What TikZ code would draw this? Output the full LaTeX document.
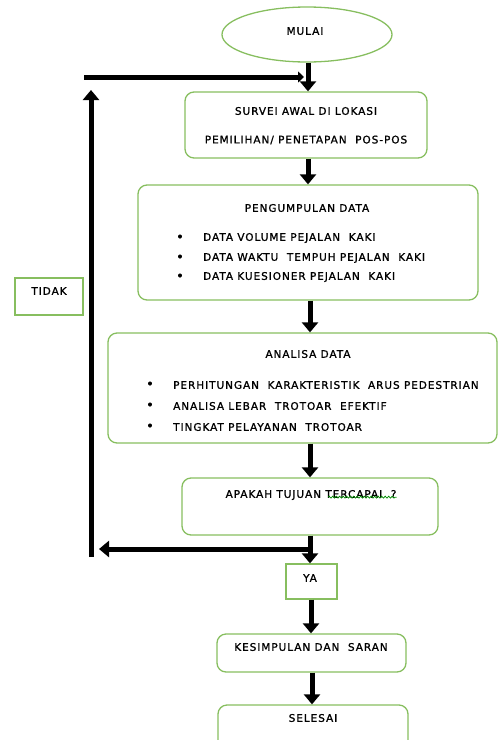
\documentclass[tikz,border=0pt]{standalone}
\usepackage{fontspec}
\setmainfont{DejaVu Sans}[LetterSpace=9,FakeBold=1.2]
\usetikzlibrary{shapes.geometric,arrows.meta,decorations.pathmorphing,calc}
\definecolor{boxgreen}{RGB}{135,190,95}
\tikzset{
  gbox/.style={draw=boxgreen,line width=1.3pt,rounded corners=9pt,inner sep=0pt},
  sbox/.style={draw=boxgreen,line width=1.3pt,inner sep=0pt},
  txt/.style={font=\fontsize{10.5}{12}\selectfont,inner sep=0pt},
  bul/.style={font=\fontsize{13}{14}\selectfont,inner sep=0pt},
  arr/.style={line width=5pt,-{Triangle[width=16pt,length=10pt]}},
  arrs/.style={line width=5pt,-{Triangle[width=11pt,length=6pt]}},
}
\begin{document}
\begin{tikzpicture}[x=1pt,y=-1pt]
\useasboundingbox (0,0) rectangle (500,740);
\clip (0,0) rectangle (500,740);
% shapes
\node[ellipse,draw=boxgreen,line width=1.3pt,minimum width=170pt,minimum height=55pt,inner sep=0pt] (mulai) at (307,34.5) {};
\node[txt] (tmulai) at (305,31) {MULAI};
\node[gbox,minimum width=242pt,minimum height=66pt] (box1) at (306,125) {};
\node[txt] (t1a) at (306,111) {SURVEI AWAL DI LOKASI};
\node[txt] (t1b) at (306,140) {PEMILIHAN/\ PENETAPAN\ \ POS-POS};
\node[gbox,minimum width=340pt,minimum height=115pt] (box2) at (308,242.5) {};
\node[txt] (t2) at (307,208) {PENGUMPULAN DATA};
\node[bul] (b21) at (180,238) {\textbullet};
\node[bul] (b22) at (180,258) {\textbullet};
\node[bul] (b23) at (180,277) {\textbullet};
\node[txt,anchor=west] (t21) at (203,238) {DATA VOLUME PEJALAN\ \ KAKI};
\node[txt,anchor=west] (t22) at (203,258) {DATA WAKTU\ \ TEMPUH PEJALAN\ \ KAKI};
\node[txt,anchor=west] (t23) at (203,277) {DATA KUESIONER PEJALAN\ \ KAKI};
\node[gbox,minimum width=389pt,minimum height=110pt] (box3) at (302.5,388) {};
\node[txt] (t3) at (308,354) {ANALISA DATA};
\node[bul] (b31) at (150,385) {\textbullet};
\node[bul] (b32) at (150,406) {\textbullet};
\node[bul] (b33) at (150,427) {\textbullet};
\node[txt,anchor=west] (t31) at (173,385) {PERHITUNGAN\ \ KARAKTERISTIK\ \ ARUS PEDESTRIAN};
\node[txt,anchor=west] (t32) at (173,406) {ANALISA LEBAR\ \ TROTOAR\ \ EFEKTIF};
\node[txt,anchor=west] (t33) at (173,427) {TINGKAT PELAYANAN\ \ TROTOAR};
\node[gbox,minimum width=256pt,minimum height=57pt] (box4) at (310,506.5) {};
\node[txt] (t4) at (311,495) {APAKAH TUJUAN TERCAPAI\ \ ?};
\draw[green!55!black,line width=0.7pt,decorate,decoration={snake,amplitude=1pt,segment length=3.5pt}] ($(t4.south west)!0.6!(t4.south east)+(0,3pt)$) -- ($(t4.south east)+(0,3pt)$);
\node[sbox,minimum width=68pt,minimum height=37pt] (tidak) at (49,296.5) {};
\node[txt] (ttidak) at (49,291) {TIDAK};
\node[sbox,minimum width=51pt,minimum height=35pt] (ya) at (311.5,581.5) {};
\node[txt] (tya) at (310,578) {YA};
\node[gbox,minimum width=189pt,minimum height=38pt] (kes) at (311.5,653) {};
\node[txt] (tkes) at (311,647) {KESIMPULAN DAN\ \ SARAN};
\node[gbox,minimum width=190pt,minimum height=50pt] (sel) at (313,730) {};
\node[txt] (tsel) at (313,718) {SELESAI};
% coordinates for feedback loop
\coordinate (ja) at (304,77);
\coordinate (fa) at (84,77);
\coordinate (jb) at (310,549);
\coordinate (fb) at (99,549);
\coordinate (fc) at (91,557);
\coordinate (fd) at (91,90);
% connectors
\draw[arr] (mulai.south -| 308,0) -- (box1.north -| 308,0);
\draw[arrs] (fa) -- (ja);
\draw[arr] (box1.south -| 308,0) -- (box2.north -| 308,0);
\draw[arr] (box2.south -| 310,0) -- (box3.north -| 310,0);
\draw[arr] (box3.south -| 310,0) -- (box4.north -| 310,0);
\draw[arr] (box4.south -| 310,0) -- (ya.north -| 310,0);
\draw[arr] (jb) -- (fb);
\draw[arr] (fc) -- (fd);
\draw[arr] (ya.south -| 311,0) -- (kes.north -| 311,0);
\draw[arr] (kes.south -| 312,0) -- (sel.north -| 312,0);
\end{tikzpicture}
\end{document}
